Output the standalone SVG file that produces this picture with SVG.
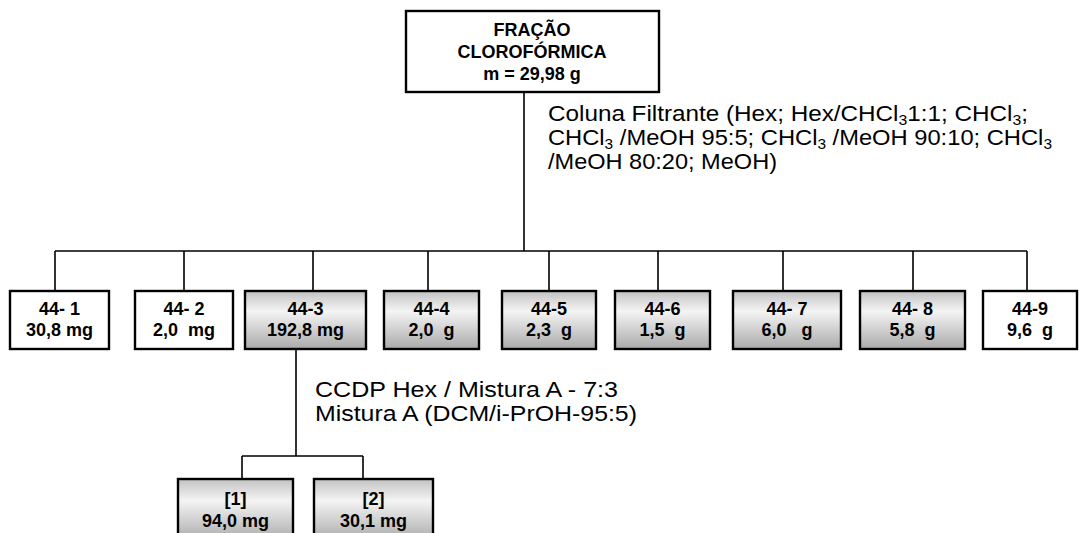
<svg xmlns="http://www.w3.org/2000/svg" width="1079" height="533" viewBox="0 0 1079 533">
<style>
.box{stroke:#000;stroke-width:2.4;fill:#fff}
.sh{fill:url(#shade)}
.bt{font-family:"Liberation Sans",Arial,sans-serif;font-weight:bold;font-size:18px;fill:#000;text-anchor:middle}
.lt{font-family:"Liberation Sans",Arial,sans-serif;font-size:21.5px;fill:#000}
.sub{font-size:14px}
.ln{stroke:#000;stroke-width:1.6;fill:none}
</style>
<defs>
<linearGradient id="shade" x1="0" y1="0" x2="0" y2="1">
<stop offset="0" stop-color="#c2c2c2"/>
<stop offset="0.35" stop-color="#f4f4f4"/>
<stop offset="1" stop-color="#aaaaaa"/>
</linearGradient>
</defs>
<rect width="1079" height="533" fill="#fff"/>
<g id="connectors">
<path class="ln" d="M524 92V251M55 251H1027M55 251V291M184 251V291M313 251V291M428 251V291M549 251V291M658 251V291M783 251V291M913 251V291M1027 251V291"/>
<path class="ln" d="M296 350V456M242 456H363M242 456V479M363 456V479"/>
</g>
<g id="top">
<rect class="box" x="406" y="11" width="253" height="81"/>
<text class="bt" x="532" y="36">FRAÇÃO</text>
<text class="bt" x="532" y="58">CLOROFÓRMICA</text>
<text class="bt" x="532" y="80">m = 29,98 g</text>
</g>
<g id="label-coluna">
<text class="lt" x="548" y="121" textLength="480" lengthAdjust="spacingAndGlyphs">Coluna Filtrante (Hex; Hex/CHCl<tspan class="sub" dy="4">3</tspan><tspan dy="-4">1:1; CHCl</tspan><tspan class="sub" dy="4">3</tspan><tspan dy="-4">;</tspan></text>
<text class="lt" x="548" y="145" textLength="504" lengthAdjust="spacingAndGlyphs">CHCl<tspan class="sub" dy="4">3</tspan><tspan dy="-4"> /MeOH 95:5; CHCl</tspan><tspan class="sub" dy="4">3</tspan><tspan dy="-4"> /MeOH 90:10; CHCl</tspan><tspan class="sub" dy="4">3</tspan></text>
<text class="lt" x="548" y="169" textLength="229" lengthAdjust="spacingAndGlyphs">/MeOH 80:20; MeOH)</text>
</g>
<g id="n1"><rect class="box" x="10" y="291" width="99" height="58"/><text class="bt" x="59.5" y="315">44- 1</text><text class="bt" x="59.5" y="336">30,8 mg</text></g>
<g id="n2"><rect class="box" x="135" y="291" width="98" height="58"/><text class="bt" x="184" y="315">44- 2</text><text class="bt" x="184" y="336" xml:space="preserve">2,0  mg</text></g>
<g id="n3"><rect class="box sh" x="245" y="291" width="121" height="58"/><text class="bt" x="305.5" y="315">44-3</text><text class="bt" x="305.5" y="336">192,8 mg</text></g>
<g id="n4"><rect class="box sh" x="384" y="291" width="95" height="58"/><text class="bt" x="431.5" y="315">44-4</text><text class="bt" x="431.5" y="336" xml:space="preserve">2,0  g</text></g>
<g id="n5"><rect class="box sh" x="502" y="291" width="94" height="58"/><text class="bt" x="549" y="315">44-5</text><text class="bt" x="549" y="336" xml:space="preserve">2,3  g</text></g>
<g id="n6"><rect class="box sh" x="615" y="291" width="95" height="58"/><text class="bt" x="662.5" y="315">44-6</text><text class="bt" x="662.5" y="336" xml:space="preserve">1,5  g</text></g>
<g id="n7"><rect class="box sh" x="733" y="291" width="108" height="58"/><text class="bt" x="787" y="315">44- 7</text><text class="bt" x="787" y="336" xml:space="preserve">6,0   g</text></g>
<g id="n8"><rect class="box sh" x="860" y="291" width="105" height="58"/><text class="bt" x="912.5" y="315">44- 8</text><text class="bt" x="912.5" y="336" xml:space="preserve">5,8  g</text></g>
<g id="n9"><rect class="box" x="983" y="291" width="94" height="58"/><text class="bt" x="1030" y="315">44-9</text><text class="bt" x="1030" y="336" xml:space="preserve">9,6  g</text></g>
<g id="label-ccdp">
<text class="lt" x="315" y="397" textLength="303" lengthAdjust="spacingAndGlyphs">CCDP Hex / Mistura A - 7:3</text>
<text class="lt" x="315" y="421" textLength="322" lengthAdjust="spacingAndGlyphs">Mistura A (DCM/i-PrOH-95:5)</text>
</g>
<g id="s1"><rect class="box sh" x="178" y="479" width="115" height="62"/><text class="bt" x="235.5" y="505">[1]</text><text class="bt" x="235.5" y="527">94,0 mg</text></g>
<g id="s2"><rect class="box sh" x="314" y="479" width="119" height="62"/><text class="bt" x="373.5" y="505">[2]</text><text class="bt" x="373.5" y="527">30,1 mg</text></g>
</svg>
